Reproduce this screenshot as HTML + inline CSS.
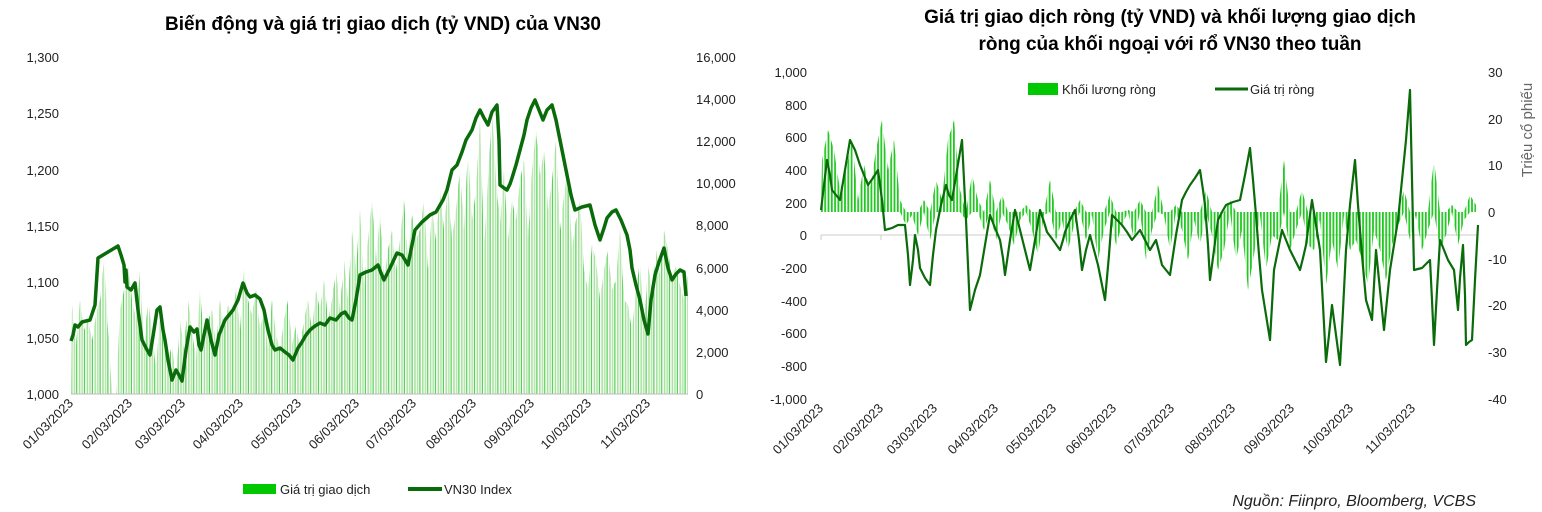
<!DOCTYPE html>
<html><head><meta charset="utf-8">
<style>
html,body{margin:0;padding:0;background:#fff;}
svg{display:block;font-family:"Liberation Sans",Arial,sans-serif;}
</style></head>
<body>
<svg width="1542" height="512" viewBox="0 0 1542 512" xmlns="http://www.w3.org/2000/svg">
<defs>
<pattern id="pl" x="71" y="0" width="7.8" height="10" patternUnits="userSpaceOnUse">
<rect x="0" y="0" width="1.6" height="10" fill="#a9e2a0"/>
<rect x="2.6" y="0" width="1.6" height="10" fill="#b4e6ac"/>
<rect x="5.2" y="0" width="1" height="10" fill="#2ec42e"/>
</pattern>
<pattern id="pr" x="821" y="0" width="3.3" height="10" patternUnits="userSpaceOnUse">
<rect x="0" y="0" width="1.8" height="10" fill="#22c822"/>
</pattern>
</defs>
<rect width="1542" height="512" fill="#fff"/>
<g font-weight="bold" font-size="19" fill="#000" text-anchor="middle">
<text x="383" y="30">Biến động và giá trị giao dịch (tỷ VND) của VN30</text>
<text x="1170" y="23">Giá trị giao dịch ròng (tỷ VND) và khối lượng giao dịch</text>
<text x="1170" y="50">ròng của khối ngoại với rổ VN30 theo tuần</text>
</g>

<!-- left bars -->
<polygon fill="url(#pl)" points="71,394 72,305 76,345 80,300 84,330 88,320 92,340 96,315 100,300 104,260 108,330 112,394 116,394 120,310 124,290 128,265 132,300 136,320 140,270 144,350 148,300 152,330 156,370 160,315 164,335 168,360 172,345 176,380 180,320 184,350 188,300 192,330 196,360 200,290 204,340 208,320 212,310 216,345 220,300 224,330 228,305 232,315 236,290 240,330 244,270 248,300 252,315 256,290 260,330 264,310 268,350 272,300 276,335 280,350 284,320 288,300 292,345 296,325 300,350 304,320 308,300 312,330 316,290 320,310 324,280 328,320 332,300 336,270 340,310 344,260 348,300 352,230 356,270 360,210 364,290 368,240 372,200 376,260 380,215 384,280 388,250 392,230 396,270 400,240 404,200 408,260 412,215 416,240 420,230 424,200 428,270 432,210 436,240 440,190 444,230 448,185 452,240 456,210 460,170 464,230 468,150 472,220 476,190 480,120 484,250 488,180 492,110 496,180 500,225 504,170 508,240 512,200 516,220 520,180 524,160 528,240 532,170 536,130 540,175 544,150 548,210 552,180 556,140 560,230 564,195 568,170 572,250 576,220 580,200 584,270 588,290 592,245 596,260 600,300 604,270 608,250 612,290 616,280 620,230 624,300 628,305 632,330 636,290 640,260 644,330 648,265 652,290 656,250 660,275 664,230 668,250 672,280 676,265 680,285 684,300 688,275 688,394"/>
<line x1="71" y1="394" x2="688" y2="394" stroke="#bbb"/>
<polyline fill="none" stroke="#0a6b0a" stroke-width="3.5" stroke-linejoin="round" points="71,341 73,335 75,325 78,327 82,322 90,320 95,305 98,258 103,255 118,246 121,255 124,265 125,282 126,270 127,287 131,290 135,283 138,310 142,340 146,348 150,355 154,330 157,310 160,307 163,330 165,340 168,360 172,380 176,370 179,375 182,381 186,350 190,327 194,332 197,329 199,345 201,350 204,335 207,320 211,340 215,355 219,335 225,320 229,315 233,310 238,300 243,283 247,293 250,297 255,295 260,299 264,310 268,330 272,345 275,350 280,348 285,352 289,355 293,360 298,348 302,342 306,335 310,330 315,326 320,323 325,325 330,318 336,320 341,314 345,312 349,318 352,320 356,300 360,275 366,272 372,270 378,265 381,273 384,280 390,268 397,253 402,255 408,265 412,245 415,230 422,222 430,215 436,212 443,200 447,190 452,170 457,165 462,152 466,140 472,130 476,118 480,110 484,118 488,125 492,112 497,105 499,140 500,185 504,188 507,190 510,184 512,178 516,165 520,150 524,135 527,120 531,108 535,100 539,110 543,120 547,110 552,105 556,120 560,140 564,160 568,180 571,195 575,210 582,207 590,205 595,225 600,240 604,228 607,218 612,212 616,210 621,220 627,235 630,250 632,268 636,285 640,300 644,320 648,334 651,300 655,275 659,262 664,248 668,268 672,280 676,274 680,270 684,272 686,296"/>

<!-- right chart -->
<line x1="821" y1="235" x2="1478" y2="235" stroke="#ccc"/>
<line x1="821" y1="235" x2="821" y2="240" stroke="#ccc"/>
<line x1="881" y1="235" x2="881" y2="240" stroke="#ccc"/>
<polygon fill="url(#pr)" points="821,212 822,160 828,130 834,150 840,190 846,170 852,140 858,200 864,165 870,190 876,150 882,120 888,170 894,140 900,200 906,212 912,212 918,212 924,200 930,212 936,180 942,200 948,140 954,120 960,190 966,212 972,175 978,200 984,212 990,180 996,212 1002,195 1008,212 1014,212 1020,212 1026,205 1032,212 1038,212 1044,212 1050,180 1056,212 1062,212 1068,212 1074,212 1080,200 1086,212 1092,212 1098,212 1104,212 1110,195 1116,212 1122,212 1128,210 1134,212 1140,200 1146,212 1152,212 1158,185 1164,212 1170,212 1176,205 1182,212 1188,212 1194,212 1200,212 1206,190 1212,212 1218,212 1224,212 1230,200 1236,212 1242,212 1248,212 1254,212 1260,212 1266,212 1272,212 1278,212 1284,160 1290,212 1296,212 1302,190 1308,212 1314,212 1320,212 1326,212 1332,212 1338,212 1344,212 1350,212 1356,212 1362,212 1368,212 1374,212 1380,212 1386,212 1392,212 1398,212 1404,190 1410,212 1416,212 1422,212 1428,212 1434,160 1440,212 1446,212 1452,205 1458,212 1464,212 1470,195 1476,205 1476,212 1470,212 1464,220 1458,245 1452,212 1446,235 1440,250 1434,212 1428,230 1422,250 1416,215 1410,240 1404,212 1398,225 1392,245 1386,280 1380,250 1374,230 1368,285 1362,260 1356,240 1350,250 1344,215 1338,270 1332,240 1326,285 1320,220 1314,250 1308,245 1302,212 1296,230 1290,250 1284,212 1278,240 1272,235 1266,270 1260,215 1254,255 1248,290 1242,230 1236,260 1230,212 1224,250 1218,270 1212,235 1206,212 1200,245 1194,220 1188,260 1182,230 1176,212 1170,250 1164,215 1158,212 1152,230 1146,260 1140,212 1134,240 1128,212 1122,225 1116,245 1110,212 1104,230 1098,260 1092,215 1086,240 1080,212 1074,225 1068,250 1062,220 1056,240 1050,212 1044,215 1038,255 1032,230 1026,212 1020,220 1014,245 1008,225 1002,212 996,240 990,212 984,230 978,212 972,212 966,220 960,212 954,212 948,212 942,212 936,212 930,240 924,212 918,235 912,215 906,225 900,212 821,212"/>
<polyline fill="none" stroke="#0a6b0a" stroke-width="2.2" stroke-linejoin="round" points="821,210 824,185 827,160 830,175 832,190 836,195 840,200 845,170 850,140 855,150 860,165 864,175 868,185 873,178 878,170 882,200 885,230 892,228 898,225 905,225 908,255 910,285 913,260 915,235 918,250 920,268 925,278 930,285 933,255 936,230 941,205 946,185 949,195 952,200 957,170 962,140 966,220 970,310 975,290 980,275 985,245 990,215 995,228 1000,240 1003,258 1005,275 1010,240 1015,210 1020,230 1025,250 1028,262 1030,270 1035,240 1040,210 1044,222 1047,232 1053,240 1060,250 1063,240 1065,232 1070,220 1075,210 1079,240 1082,270 1086,250 1090,235 1094,250 1098,265 1102,285 1105,300 1109,255 1112,215 1117,220 1122,225 1127,232 1132,240 1136,235 1140,230 1145,240 1150,250 1153,245 1156,240 1159,252 1162,265 1166,270 1170,275 1173,255 1176,235 1179,218 1182,200 1186,192 1190,185 1195,178 1200,170 1203,190 1205,205 1208,245 1210,280 1214,250 1218,220 1222,212 1226,205 1233,202 1240,200 1245,175 1250,148 1253,180 1256,215 1259,255 1262,290 1266,315 1270,340 1272,305 1274,270 1278,250 1282,230 1286,240 1290,250 1295,260 1300,270 1303,258 1306,245 1309,222 1312,200 1316,225 1320,250 1323,305 1326,362 1329,335 1332,305 1336,335 1340,365 1343,310 1346,250 1350,205 1355,160 1358,205 1362,255 1364,278 1366,300 1369,310 1372,320 1374,285 1376,250 1380,290 1384,330 1387,300 1390,270 1394,245 1398,220 1402,180 1406,140 1408,115 1410,90 1412,180 1414,270 1418,269 1422,268 1426,264 1430,260 1432,300 1434,345 1437,290 1440,240 1444,250 1448,260 1451,265 1454,270 1456,290 1458,310 1460,278 1463,245 1465,295 1466,345 1469,342 1472,340 1475,280 1478,225"/>

<g font-size="13" fill="#222">
<text x="59" y="62" text-anchor="end">1,300</text>
<text x="59" y="118" text-anchor="end">1,250</text>
<text x="59" y="175" text-anchor="end">1,200</text>
<text x="59" y="231" text-anchor="end">1,150</text>
<text x="59" y="287" text-anchor="end">1,100</text>
<text x="59" y="343" text-anchor="end">1,050</text>
<text x="59" y="399" text-anchor="end">1,000</text>
<text x="696" y="62">16,000</text>
<text x="696" y="104">14,000</text>
<text x="696" y="146">12,000</text>
<text x="696" y="188">10,000</text>
<text x="696" y="230">8,000</text>
<text x="696" y="273">6,000</text>
<text x="696" y="315">4,000</text>
<text x="696" y="357">2,000</text>
<text x="696" y="399">0</text>

<text x="807" y="77" text-anchor="end">1,000</text>
<text x="807" y="110" text-anchor="end">800</text>
<text x="807" y="142" text-anchor="end">600</text>
<text x="807" y="175" text-anchor="end">400</text>
<text x="807" y="208" text-anchor="end">200</text>
<text x="807" y="240" text-anchor="end">0</text>
<text x="807" y="273" text-anchor="end">-200</text>
<text x="807" y="306" text-anchor="end">-400</text>
<text x="807" y="338" text-anchor="end">-600</text>
<text x="807" y="371" text-anchor="end">-800</text>
<text x="807" y="404" text-anchor="end">-1,000</text>
<text x="1488" y="77">30</text>
<text x="1488" y="124">20</text>
<text x="1488" y="170">10</text>
<text x="1488" y="217">0</text>
<text x="1488" y="264">-10</text>
<text x="1488" y="310">-20</text>
<text x="1488" y="357">-30</text>
<text x="1488" y="404">-40</text>
<text transform="translate(1532,130) rotate(-90)" text-anchor="middle" font-size="15" fill="#666">Triệu cổ phiếu</text>

<g text-anchor="end">
<text transform="translate(74,404) rotate(-45)">01/03/2023</text>
<text transform="translate(133,404) rotate(-45)">02/03/2023</text>
<text transform="translate(186,404) rotate(-45)">03/03/2023</text>
<text transform="translate(244,404) rotate(-45)">04/03/2023</text>
<text transform="translate(302,404) rotate(-45)">05/03/2023</text>
<text transform="translate(360,404) rotate(-45)">06/03/2023</text>
<text transform="translate(417,404) rotate(-45)">07/03/2023</text>
<text transform="translate(477,404) rotate(-45)">08/03/2023</text>
<text transform="translate(535,404) rotate(-45)">09/03/2023</text>
<text transform="translate(592,404) rotate(-45)">10/03/2023</text>
<text transform="translate(651,404) rotate(-45)">11/03/2023</text>

<text transform="translate(824,409) rotate(-45)">01/03/2023</text>
<text transform="translate(884,409) rotate(-45)">02/03/2023</text>
<text transform="translate(938,409) rotate(-45)">03/03/2023</text>
<text transform="translate(999,409) rotate(-45)">04/03/2023</text>
<text transform="translate(1057,409) rotate(-45)">05/03/2023</text>
<text transform="translate(1117,409) rotate(-45)">06/03/2023</text>
<text transform="translate(1175,409) rotate(-45)">07/03/2023</text>
<text transform="translate(1236,409) rotate(-45)">08/03/2023</text>
<text transform="translate(1295,409) rotate(-45)">09/03/2023</text>
<text transform="translate(1354,409) rotate(-45)">10/03/2023</text>
<text transform="translate(1416,409) rotate(-45)">11/03/2023</text>
</g>

<rect x="243" y="484" width="33" height="10" fill="#00c800"/>
<text x="280" y="494">Giá trị giao dịch</text>
<line x1="408" y1="489" x2="442" y2="489" stroke="#0a6b0a" stroke-width="4"/>
<text x="444" y="494">VN30 Index</text>
<rect x="1028" y="83" width="30" height="12" fill="#00c800"/>
<text x="1062" y="94">Khối lương ròng</text>
<line x1="1215" y1="89" x2="1248" y2="89" stroke="#0a6b0a" stroke-width="3"/>
<text x="1250" y="94">Giá trị ròng</text>
<text x="1476" y="506" text-anchor="end" font-style="italic" font-size="16">Nguồn: Fiinpro, Bloomberg, VCBS</text>
</g>
</svg>
</body></html>
